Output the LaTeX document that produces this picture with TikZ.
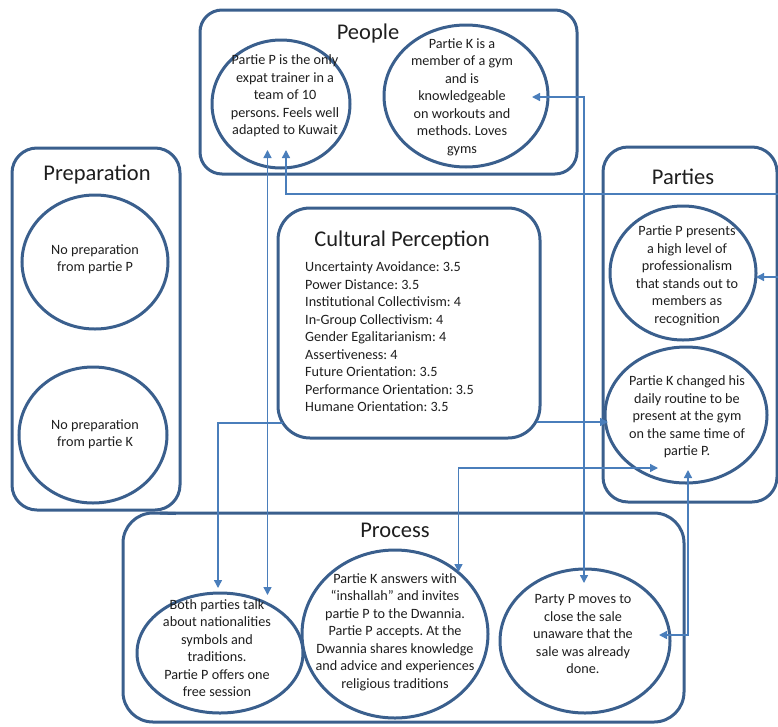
\documentclass[tikz,border=0pt]{standalone}
\usepackage{fontspec}
\setmainfont{Carlito}
\usetikzlibrary{arrows.meta,shapes.geometric}
\definecolor{frame}{HTML}{3A5F8D}
\definecolor{link}{HTML}{4A7EBB}
\definecolor{ink}{HTML}{1E1E1E}
\frenchspacing

\begin{document}
\begin{tikzpicture}[x=1pt,y=-1pt,
  panel/.style={draw=frame, line width=3pt, rectangle, rounded corners=#1,
    inner sep=0pt, outer sep=0pt},
  oval/.style={draw=frame, line width=3pt, ellipse, inner sep=0pt, outer sep=0pt},
  title/.style={text=ink, font=\fontsize{22.5}{26}\selectfont, inner sep=0pt},
  body/.style={text=ink, align=center, font=\fontsize{14.2}{17.5}\selectfont, inner sep=0pt},
  list/.style={text=ink, align=left, font=\fontsize{14.2}{17.5}\selectfont, inner sep=0pt, anchor=west},
  link/.style={draw=link, line width=1.4pt},
  tip/.style={-{Triangle[length=8pt,width=8pt]}},
  tips/.style={{Triangle[length=8pt,width=8pt]}-{Triangle[length=8pt,width=8pt]}}]

\useasboundingbox (0,0) rectangle (778,726);

% ---------- panels ----------
\node[panel=22pt, minimum width=377pt, minimum height=164pt] (people) at (388.5,92) {};
\node[panel=25pt, minimum width=168pt, minimum height=362pt] (prep) at (96,329) {};
\node[panel=25pt, minimum width=174pt, minimum height=355pt] (parties) at (690,324.5) {};
\node[panel=32pt, minimum width=262pt, minimum height=230pt] (cult) at (409,323) {};
\node[panel=30pt, minimum width=561pt, minimum height=209pt] (process) at (403.5,617.5) {};
\coordinate (procedge) at (176,513.5);
\draw[draw=frame, line width=3pt] (procedge) -- (process.north west -| 160,0);

% ---------- titles ----------
\node[title] (peopleT) at (368,33) {People};
\node[title] (prepT) at (97,175) {Preparation};
\node[title] (partiesT) at (683,177) {Parties};
\node[title] (cultT) at (402,240) {Cultural Perception};
\node[title] (processT) at (395,530) {Process};

% ---------- People ----------
\node[oval, minimum width=138pt, minimum height=128pt] (pP) at (281,104) {};
\node[body] (pPt) at (285,96) {Partie P is the only\\expat trainer in a\\team of 10\\persons. Feels well\\adapted to Kuwait};
\node[oval, minimum width=164pt, minimum height=142pt] (pK) at (466,96) {};
\node[body] (pKt) at (462,97) {Partie K is a\\member of a gym\\and is\\knowledgeable\\on workouts and\\methods. Loves\\gyms};

% ---------- Preparation ----------
\node[oval, minimum width=146pt, minimum height=134pt] (prP) at (95,262) {};
\node[body] (prPt) at (95,259) {No preparation\\from partie P};
\node[oval, minimum width=148pt, minimum height=136pt] (prK) at (93,435) {};
\node[body] (prKt) at (95,434) {No preparation\\from partie K};

% ---------- Parties ----------
\node[oval, minimum width=146pt, minimum height=134pt] (paP) at (683,273) {};
\node[body] (paPt) at (687,276) {Partie P presents\\a high level of\\professionalism\\that stands out to\\members as\\recognition};
\node[oval, minimum width=162pt, minimum height=136pt] (paK) at (686,415) {};
\node[body] (paKt) at (687,417) {Partie K changed his\\daily routine to be\\present at the gym\\on the same time of\\partie P.};

% ---------- Cultural Perception ----------
\node[list] (cultL) at (305,337) {Uncertainty Avoidance: 3.5\\Power Distance: 3.5\\Institutional Collectivism: 4\\In-Group Collectivism: 4\\Gender Egalitarianism: 4\\Assertiveness: 4\\Future Orientation: 3.5\\Performance Orientation: 3.5\\Humane Orientation: 3.5};

% ---------- Process ----------
\node[oval, minimum width=166pt, minimum height=120pt] (c1) at (220,653) {};
\node[body] (c1t) at (217,648) {Both parties talk\\about nationalities\\symbols and\\traditions.\\Partie P offers one\\free session};
\node[oval, minimum width=186pt, minimum height=168pt] (c2) at (395,634) {};
\node[body] (c2t) at (395,632) {Partie K answers with\\“inshallah” and invites\\partie P to the Dwannia.\\Partie P accepts. At the\\Dwannia shares knowledge\\and advice and experiences\\religious traditions};
\node[oval, minimum width=170pt, minimum height=144pt] (c3) at (585,641) {};
\node[body] (c3t) at (583,634) {Party P moves to\\close the sale\\unaware that the\\sale was already\\done.};

% ---------- connector end points ----------
\coordinate (edgeA) at (778,194);
\coordinate (edgeB) at (778,277);
\coordinate (pPin) at (286,150);
\coordinate (pPlink) at (267.5,150);
\coordinate (c1top) at (267.5,595);
\coordinate (cultW) at (283,423);
\coordinate (c1in) at (218,588);
\coordinate (cultE) at (537,422);
\coordinate (partiesW) at (608,422);
\coordinate (c3top) at (584,583);
\coordinate (pKin) at (532,97);
\coordinate (c2top) at (458.5,572);
\coordinate (paKa) at (658,468);
\coordinate (c3right) at (659,635);
\coordinate (paKb) at (688,470);
\coordinate (paPin) at (756,277);

% ---------- connectors ----------
\draw[link, tip] (edgeA) -| (pPin);
\draw[link, tips] (pPlink) -- (c1top);
\draw[link, tip] (cultW) -| (c1in);
\draw[link, tip] (cultE) -- (partiesW);
\draw[link, tips] (c3top) |- (pKin);
\draw[link, tips] (c2top) |- (paKa);
\draw[link, tips] (c3right) -| (paKb);
\draw[link, tip] (edgeB) -- (paPin);
\end{tikzpicture}
\end{document}
